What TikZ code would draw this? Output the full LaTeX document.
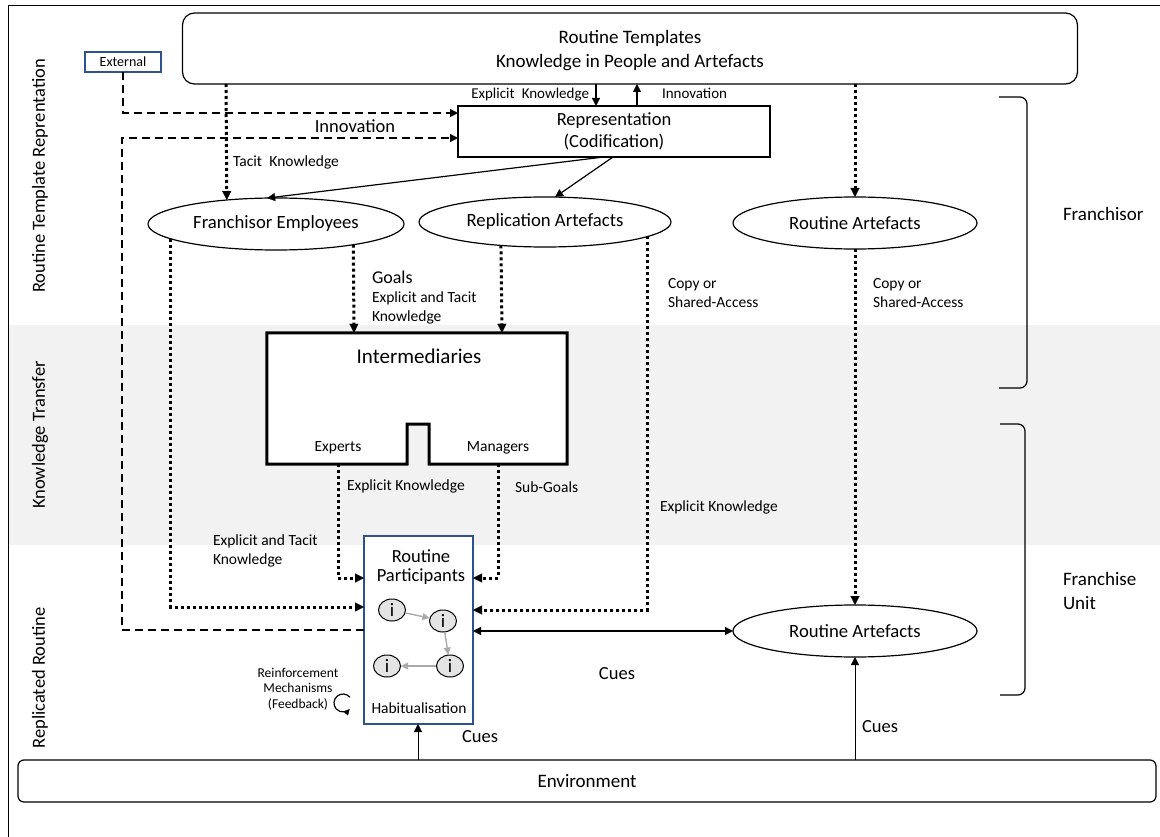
\documentclass[tikz,border=0pt]{standalone}
\usepackage{fontspec}
\setmainfont{Carlito}
\usetikzlibrary{arrows.meta,shapes.geometric,calc}
\definecolor{band}{RGB}{242,242,242}
\definecolor{bluebox}{RGB}{47,82,143}
\definecolor{igray}{RGB}{228,228,228}
\definecolor{agray}{RGB}{170,170,170}
\begin{document}
\begin{tikzpicture}[x=1pt,y=1pt,
  fs/.style={font=\fontsize{#1}{#1}\selectfont},
  box/.style={draw, line width=1.2pt, inner sep=0pt, outer sep=0pt},
  ell/.style={draw, ellipse, line width=1.2pt, inner sep=0pt, outer sep=0pt, fs=18.7},
  lbl/.style={inner sep=0pt, outer sep=0pt, anchor=west},
  solidarrow/.style={line width=1.2pt, -{Triangle[length=8pt,width=8pt,line width=0.3pt]}},
  dotarrow/.style={line width=3pt, dash pattern=on 3pt off 3pt, -{Triangle[length=9pt,width=9pt,line width=0.3pt]}},
  dasharrow/.style={line width=1.2pt, dash pattern=on 8pt off 5pt, -{Triangle[length=8pt,width=8pt,line width=0.3pt]}},
  inode/.style={draw, ellipse, fill=igray, line width=1pt, minimum width=27pt, minimum height=22pt, inner sep=0pt, fs=19},
  garrow/.style={draw=agray, line width=1.4pt, -{Triangle[length=7pt,width=7pt,line width=0.3pt]}},
  brk/.style={line width=1.2pt, rounded corners=7pt}
]
\useasboundingbox (0,0) rectangle (1160,-837);
% band
\fill[band] (9,-325) rectangle (1160,-545);
% frame
\draw[line width=1pt] (8,-837) -- (8,-6) -- (1160,-6);

% left labels
\node[rotate=90, fs=18.5] (l1) at (40,-176) {Routine Template Reprentation};
\node[rotate=90, fs=18.5] (l2) at (40,-435) {Knowledge Transfer};
\node[rotate=90, fs=18.5] (l3) at (40,-678) {Replicated Routine};

% top box
\node[box, rounded corners=12pt, minimum width=895pt, minimum height=71pt] (top) at (630,-48.5) {};
\node[align=center, fs=19] (topt) at (630,-51) {Routine Templates\\[5pt]Knowledge in People and Artefacts};
% external
\node[box, draw=bluebox, minimum width=76pt, minimum height=20pt, fs=14] (ext) at (123,-62) {External};
% representation
\node[box, minimum width=312pt, minimum height=51pt, align=center, fs=18.5] (rep) at (614,-131.5)
  {Representation\\[3pt](Codification)};

% ellipses
\node[ell, minimum width=256pt, minimum height=52pt] (fe) at (276,-224) {Franchisor Employees};
\node[ell, minimum width=252pt, minimum height=50pt] (re) at (545,-222) {Replication Artefacts};
\node[ell, minimum width=244pt, minimum height=52pt] (ra1) at (855,-223) {Routine Artefacts};
\node[ell, minimum width=244pt, minimum height=52pt] (ra2) at (855,-631) {Routine Artefacts};

% intermediaries
\node[inner sep=0pt, minimum width=300pt, minimum height=131pt] (inter) at (417,-398.5) {};
\draw[line width=3pt, fill=white, line join=miter]
  (inter.north west) -- (inter.north east) -- (inter.south east) -- (429,-464) -- (429,-424)
  -- (407,-424) -- (407,-464) -- (inter.south west) -- cycle;
\node[fs=21] (intert) at (419,-356) {Intermediaries};
\node[fs=15.5] (exp) at (338,-448) {Experts};
\node[fs=15.5] (man) at (498,-448) {Managers};

% participants
\node[box, draw=bluebox, fill=white, minimum width=109pt, minimum height=188pt] (part) at (418.5,-630) {};
\node[fs=18.5, align=center] (partt) at (421,-567) {Routine\\[1pt]Participants};
\node[inode] (i1) at (392,-610) {i};
\node[inode] (i2) at (443,-621) {i};
\node[inode] (i3) at (387,-666) {i};
\node[inode] (i4) at (450,-666) {i};
\draw[garrow] (i1) -- (i2);
\draw[garrow] (i2) -- (i4);
\draw[garrow] (i4.west) -- (i3.east);
\node[fs=15.5] (hab) at (419,-708) {Habitualisation};

% environment
\node[box, rounded corners=6pt, minimum width=1138pt, minimum height=42pt, fs=19] (env) at (587,-781) {Environment};

% brackets
\draw[brk] (999,-97) -- (1027,-97) -- (1027,-388) -- (999,-388);
\draw[brk] (1000,-424) -- (1025,-424) -- (1025,-695) -- (1000,-695);
\node[lbl, fs=19] (fr) at (1063,-214) {Franchisor};
\node[lbl, fs=19, align=left] (fu) at (1063,-591) {Franchise\\[5pt]Unit};

% top arrows
\draw[solidarrow] (top.south -| 596,0) -- (rep.north -| 596,0);
\draw[solidarrow] (rep.north -| 637,0) -- (top.south -| 637,0);
\node[lbl, anchor=east, fs=15] (ek1) at (589,-95) {Explicit\hspace{0.25em} Knowledge};
\node[lbl, fs=15] (inn1) at (662,-93) {Innovation};

% external & innovation dashed
\draw[dasharrow] (ext.south) |- (rep.west |- 0,-113);
\draw[dasharrow] (part.west |- 0,-630) -| (122,-138) -- (rep.west |- 0,-138);
\node[fs=18.5] (inn2) at (355,-126) {Innovation};

% rep to ellipses
\draw[solidarrow] ($(rep.south)+(-10,0)$) -- (fe.109);
\draw[solidarrow] ($(rep.south)+(-1,0)$) -- (re.68);

% tacit
\draw[dotarrow] (top.south -| 226,0) -- (fe.154);
\node[lbl, fs=15.5] (tk) at (233,-162) {Tacit\hspace{0.25em} Knowledge};
% top to routine artefacts
\draw[dotarrow] (top.south -| ra1.north) -- (ra1.north);
\draw[dotarrow] (ra1.south) -- (ra2.north);

% franchisor employees
\draw[dotarrow] (fe.188) |- (part.west |- 0,-607);
\draw[dotarrow] (fe.345) -- (inter.north -| 354,0);
\node[lbl, fs=18] (goals) at (372,-277) {Goals};
\node[lbl, fs=15.5, align=left] (eatk1) at (372,-308) {Explicit and Tacit\\[3pt]Knowledge};
% replication artefacts
\draw[dotarrow] (re.208) -- (inter.north -| 502,0);
\draw[dotarrow] (re.352) |- (part.east |- 0,-610);
\node[lbl, fs=15.5, align=left] (cs1) at (668,-293) {Copy or\\[3pt]Shared-Access};
\node[lbl, fs=15.5, align=left] (cs2) at (873,-293) {Copy or\\[3pt]Shared-Access};
\node[lbl, fs=15.5] (ek3) at (660,-507) {Explicit Knowledge};
% experts / managers
\draw[dotarrow] (inter.south -| 338,0) |- (part.west |- 0,-578);
\draw[dotarrow] (inter.south -| 498,0) |- (part.east |- 0,-578);
\node[lbl, fs=15.5] (ek2) at (347,-486) {Explicit Knowledge};
\node[lbl, fs=15.5] (sg) at (515,-487) {Sub-Goals};
\node[lbl, fs=15.5, align=left] (eatk2) at (213,-551) {Explicit and Tacit\\[3pt]Knowledge};

% cues
\draw[line width=1.2pt, {Triangle[length=8pt,width=8pt,line width=0.3pt]}-{Triangle[length=8pt,width=8pt,line width=0.3pt]}] (part.east |- ra2.west) -- (ra2.west);
\node[fs=18.5] (cues1) at (617,-674) {Cues};
\draw[solidarrow, line width=1pt] (env.north -| 418,0) -- (part.south -| 418,0);
\node[lbl, fs=18.5] (cues2) at (462,-737) {Cues};
\draw[solidarrow, line width=1pt] (env.north -| ra2.south) -- (ra2.south);
\node[lbl, fs=18.5] (cues3) at (862,-727) {Cues};

% reinforcement
\node[fs=13.5, align=center] (rm) at (298,-689) {Reinforcement\\[2pt]Mechanisms\\[2pt](Feedback)};
\coordinate (rc) at (343,-703);
\draw[line width=1.2pt, -{Triangle[length=6pt,width=6pt,line width=0.3pt]}] ($(rc)+(40:9)$) arc (40:318:9);
\end{tikzpicture}
\end{document}
